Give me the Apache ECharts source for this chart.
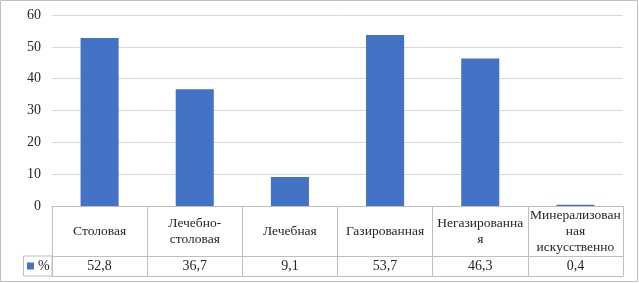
<!DOCTYPE html>
<html>
<head>
	<meta charset="UTF-8">
	<title></title>
	<script src="https://cdn.jsdelivr.net/npm/echarts@6/dist/echarts.min.js"></script>
	<style>
		html, body { margin: 0; padding: 0; background: #fff; }
		#chart { width: 639px; height: 283px; }
	</style>
</head>
<body>
	<div id="chart"></div>
	<script type="text/javascript">
		// данные
		var categories = ['Столовая', 'Лечебно-\nстоловая', 'Лечебная', 'Газированная', 'Негазированна\nя', 'Минерализован\nная\nискусственно'];
		var values = [52.8, 36.7, 9.1, 53.7, 46.3, 0.4];
		var valueLabels = ['52,8', '36,7', '9,1', '53,7', '46,3', '0,4'];
		var seriesName = '%';

		var font = 'Liberation Serif';
		var textColor = '#262626';
		var tableColor = '#bfbfbf';

		var myChart = echarts.init(document.getElementById('chart'));
		var option = {
			animation: false,
			grid: { left: 52, right: 16, top: 15, bottom: 77 },
			legend: {
				data: [seriesName],
				left: 27,
				top: 259,
				padding: 0,
				itemWidth: 7,
				itemHeight: 7,
				itemGap: 4,
				icon: 'rect',
				textStyle: { fontFamily: font, fontSize: 14, color: textColor, padding: [0, 0, 0, -1] }
			},
			yAxis: {
				type: 'value',
				min: 0,
				max: 60,
				interval: 10,
				axisLine: { show: false },
				axisTick: { show: false },
				axisLabel: { fontFamily: font, fontSize: 14, color: textColor, margin: 11 },
				splitLine: { lineStyle: { color: '#d9d9d9' } }
			},
			xAxis: [{
				type: 'category',
				data: categories,
				position: 'bottom',
				axisLine: { lineStyle: { color: tableColor } },
				axisTick: { show: true, length: 70, lineStyle: { color: tableColor } },
				axisLabel: { interval: 0, fontFamily: font, fontSize: 13.5, color: textColor, margin: 25, verticalAlign: 'middle', lineHeight: 16, align: 'center' }
			}, {
				type: 'category',
				data: valueLabels,
				position: 'bottom',
				offset: 50,
				axisLine: { lineStyle: { color: tableColor } },
				axisTick: { show: false },
				axisLabel: { interval: 0, fontFamily: font, fontSize: 14, color: textColor, margin: 10, verticalAlign: 'middle' }
			}, {
				type: 'category',
				data: valueLabels,
				position: 'bottom',
				offset: 70,
				axisLine: { lineStyle: { color: tableColor } },
				axisTick: { show: false },
				axisLabel: { show: false }
			}],
			series: [{
				name: seriesName,
				type: 'bar',
				xAxisIndex: 0,
				data: values,
				barWidth: '40%',
				itemStyle: { color: '#4472c4' }
			}],
			graphic: [{
				type: 'rect',
				shape: { x: 0.5, y: 0.5, width: 637, height: 281 },
				style: { fill: 'none', stroke: '#bfbfbf', lineWidth: 1 }
			}, {
				type: 'rect',
				shape: { x: 23.5, y: 256, width: 28.5, height: 20 },
				style: { fill: 'none', stroke: tableColor, lineWidth: 1 }
			}]
		};
		myChart.setOption(option);
	</script>
</body>
</html>
